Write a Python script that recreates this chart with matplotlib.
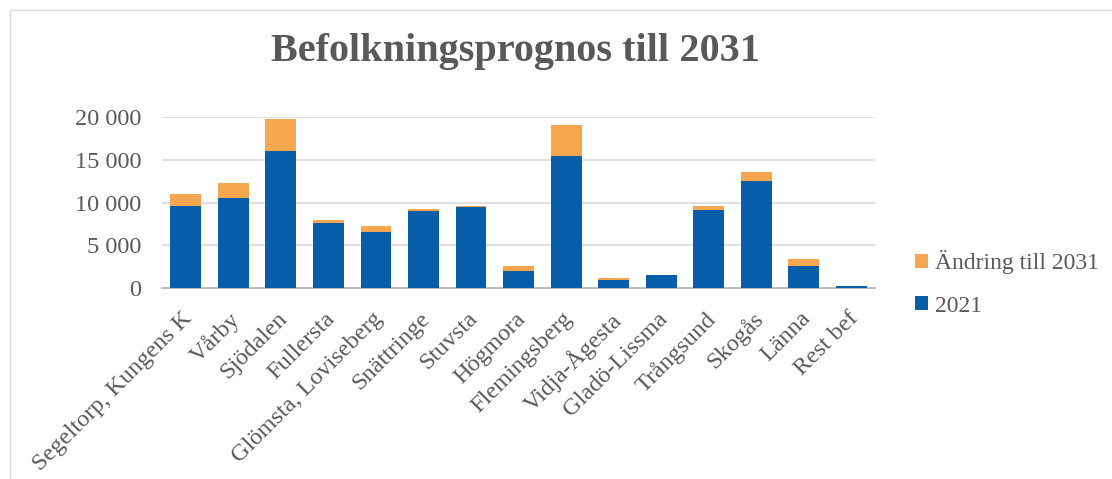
import matplotlib.pyplot as plt
import numpy as np
from matplotlib.ticker import FuncFormatter
from matplotlib.patches import Rectangle
from matplotlib.transforms import ScaledTranslation

plt.rcParams['font.family'] = ['Liberation Serif', 'DejaVu Serif']

omraden = ["Segeltorp, Kungens K", "Vårby", "Sjödalen", "Fullersta",
           "Glömsta, Loviseberg", "Snättringe", "Stuvsta", "Högmora",
           "Flemingsberg", "Vidja-Ågesta", "Gladö-Lissma", "Trångsund",
           "Skogås", "Länna", "Rest bef"]
bef_2021 = [9550, 10500, 16000, 7550, 6500, 9000, 9500, 1950,
            15400, 900, 1500, 9150, 12500, 2550, 250]
andring = [1450, 1800, 3800, 450, 800, 200, 50, 600,
           3650, 230, 0, 500, 1100, 800, 0]

blue = '#085DA9'
orange = '#F5A64E'
grey_text = '#595959'

fig = plt.figure(figsize=(11.12, 4.79), dpi=100)
ax = fig.add_axes([0.1457, 0.3987, 0.6413, 0.357])

x = np.arange(len(omraden))
b1 = ax.bar(x, bef_2021, width=0.65, color=blue, label='2021', zorder=3)
b2 = ax.bar(x, andring, width=0.65, bottom=bef_2021, color=orange,
            label='Ändring till 2031', zorder=3)

ax.set_xlim(-0.5, len(omraden) - 0.5)
ax.set_ylim(0, 20000)
ax.set_yticks([0, 5000, 10000, 15000, 20000])
ax.yaxis.set_major_formatter(FuncFormatter(lambda v, p: f"{int(v):,}".replace(",", " ")))
ax.grid(axis='y', color='#D9D9D9', linewidth=1.2, zorder=0)
for s in ['top', 'right', 'left']:
    ax.spines[s].set_visible(False)
ax.spines['bottom'].set_color('#BFBFBF')
ax.spines['bottom'].set_linewidth(1.5)
ax.tick_params(axis='both', length=0, labelsize=17.5, colors=grey_text, pad=15)
ax.set_xticks(x)
ax.set_xticklabels(omraden, rotation=45, ha='right', rotation_mode='anchor')
ax.tick_params(axis='x', pad=8)
shift = ScaledTranslation(-0.04, -0.09, fig.dpi_scale_trans)
for lbl in ax.get_xticklabels():
    lbl.set_transform(lbl.get_transform() + shift)

fig.text(0.464, 0.893, 'Befolkningsprognos till 2031', ha='center', va='center',
         fontsize=29, fontweight='bold', color=grey_text)

fig.legend([b2, b1], ['Ändring till 2031', '2021'], loc='center left',
           bbox_to_anchor=(0.804, 0.408), frameon=False, fontsize=17,
           labelspacing=0.9, handlelength=0.55, handleheight=0.55,
           handletextpad=0.3, labelcolor=grey_text)

fig.patches.append(Rectangle((0.009, -0.1), 1.1, 1.079, transform=fig.transFigure,
                             fill=False, edgecolor='#D9D9D9', linewidth=1))

fig.savefig('out.png', dpi=100)
